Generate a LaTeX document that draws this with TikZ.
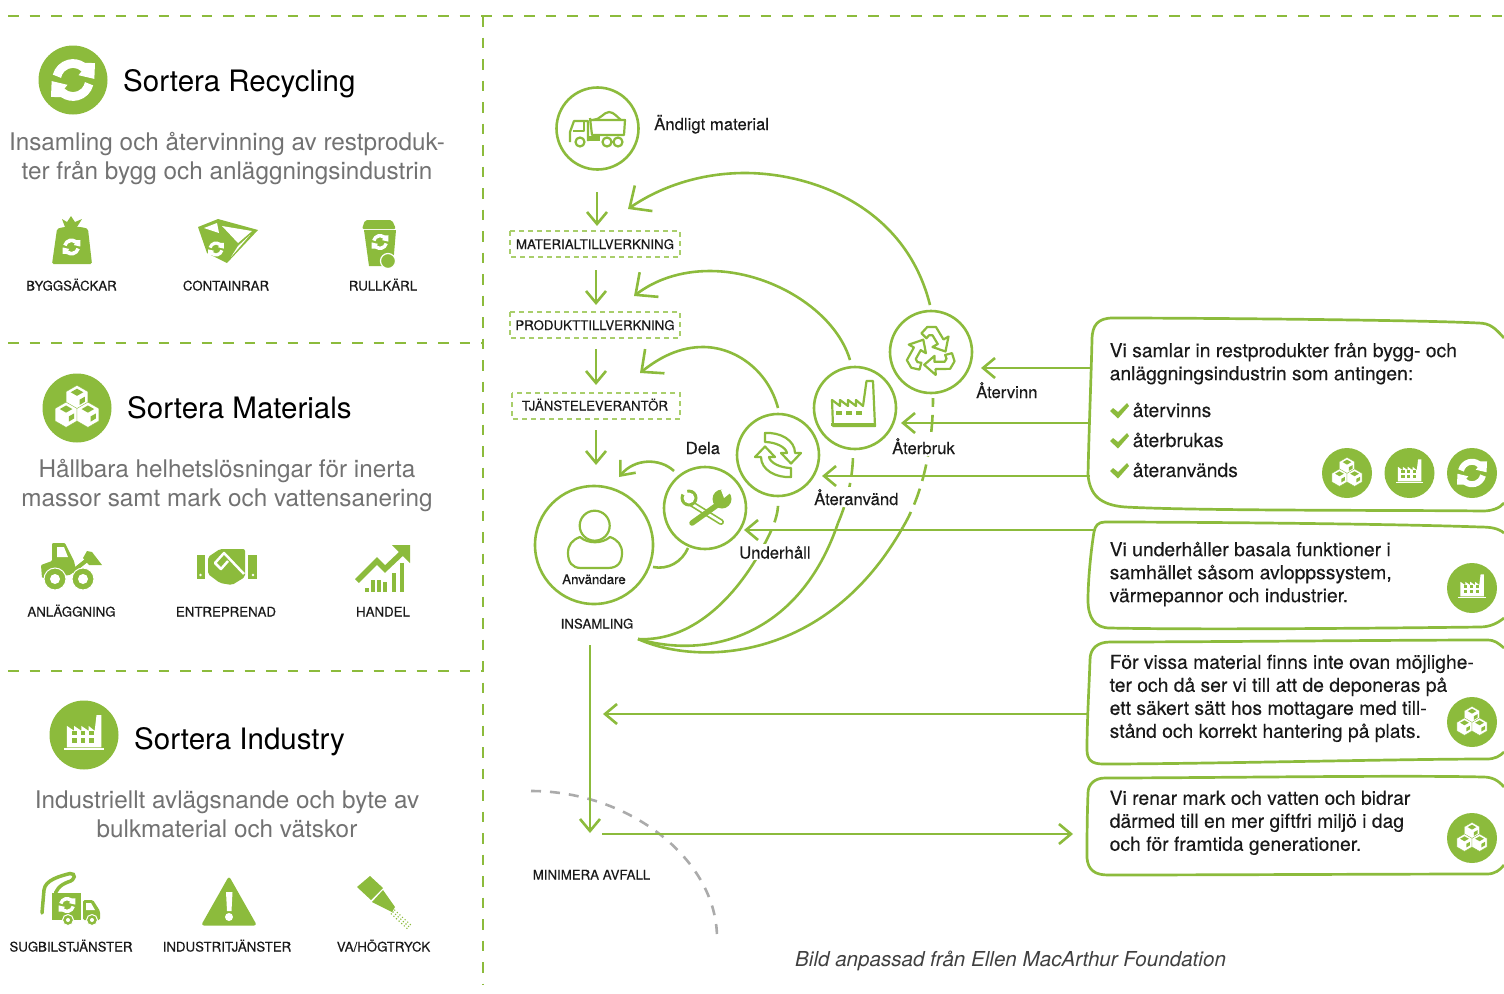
\documentclass[tikz,border=0pt]{standalone}
\usepackage{fontspec}
\setmainfont{TeX Gyre Heros}
\newfontfamily\fbold[FakeBold=0.4]{TeX Gyre Heros}
\newfontfamily\fbolds[FakeBold=0.25]{TeX Gyre Heros}
\usetikzlibrary{arrows.meta}
\definecolor{gr}{HTML}{8CBB3C}
\definecolor{grl}{HTML}{A9CE6B}
\definecolor{txtg}{HTML}{727272}
\definecolor{txtk}{HTML}{1A1A1A}
\definecolor{dashg}{HTML}{ABABAB}
\newcommand{\isync}[4]{\begin{scope}[shift={(#1,#2)},scale=#3]
 \foreach \rr in {0,180}{\fill[#4,rotate=\rr] (165:.95) arc (165:55:.95) -- (1,.77) -- (.97,.05) -- (.25,.22) -- (45:.55) arc (45:170:.55) -- cycle;}
 \end{scope}}
\newcommand{\icube}[4]{\begin{scope}[shift={(#1,#2)}]
 \fill[#3,draw=#4,line width=.4pt,line join=round] (90:.6) -- (30:.6) -- (-30:.6) -- (-90:.6) -- (-150:.6) -- (150:.6) -- cycle;
 \fill[#4] (0,.44) -- (.3,.27) -- (0,.1) -- (-.3,.27) -- cycle;
 \fill[#4] (.13,-.08) -- (.38,.06) -- (.38,-.18) -- (.13,-.33) -- cycle;
 \end{scope}}
\newcommand{\icubes}[5]{\begin{scope}[shift={(#1,#2)},scale=#3]
 \icube{0}{.48}{#4}{#5}\icube{-.52}{-.32}{#4}{#5}\icube{.52}{-.32}{#4}{#5}\end{scope}}
\newcommand{\ifactory}[5]{\begin{scope}[shift={(#1,#2)},scale=#3]
 \fill[#4] (-.9,-.65) -- (-.9,.48) -- (-.52,.22) -- (-.52,.48) -- (-.14,.22) -- (-.14,.48) -- (.24,.22) -- (.24,.48) -- (.56,.22) -- (.66,1.05) -- (.92,1.05) -- (.92,-.65) -- cycle;
 \fill[#4] (-1.05,-.78) rectangle (1.05,-.68);
 \foreach \xx in {-.62,-.17,.28}{\foreach \yy in {-.42,-.02}{\fill[#5] (\xx,\yy) rectangle +(.24,.24);}}
 \end{scope}}
\tikzset{
 sep/.style={gr,line width=2.6pt,dash pattern=on 10.5pt off 11pt},
 circ/.style={circle,draw=gr,line width=2.6pt,fill=white,inner sep=0pt},
 dot/.style={circle,fill=gr,inner sep=0pt},
 conn/.style={gr,line width=2.6pt},
 dconn/.style={gr,line width=2.6pt,dash pattern=on 17pt off 8pt},
 box/.style={gr,line width=2.7pt,line join=round},
 darrow/.style={conn,-{Straight Barb[length=12pt,width=20pt,line width=2.6pt]}},
 barrow/.style={conn,-{Straight Barb[length=17pt,width=31pt,line width=2.6pt]}},
 title/.style={anchor=base west,inner sep=0pt,text=black,font=\fontsize{29.5}{36}\selectfont},
 desc/.style={align=center,inner sep=0pt,text=txtg,font=\fontsize{24.3}{29}\selectfont},
 caps/.style={inner sep=0pt,anchor=base,text=txtk,font=\fbold\fontsize{13.25}{15}\selectfont},
 lab/.style={inner sep=1.5pt,fill=white,anchor=base west,text=txtk,font=\fbolds\fontsize{16.7}{19}\selectfont},
 body/.style={align=left,anchor=north west,inner sep=0pt,text=txtk,font=\fbolds\fontsize{19.3}{23}\selectfont},
 tbox/.style={grl,line width=1.3pt,dash pattern=on 5pt off 4pt},
 ico/.style={gr,line width=2.2pt,line join=round},
}
\begin{document}
\begin{tikzpicture}[x=1pt,y=1pt]
\useasboundingbox (0,0) rectangle (1504,-993);
% separators
\draw[sep] (8,-16) -- (1504,-16);
\draw[sep] (483,-16) -- (483,-985);
\draw[sep] (8,-343) -- (483,-343);
\draw[sep] (8,-671) -- (483,-671);

% --- left panel 1
\node[dot,minimum size=69pt] (cr) at (73,-80) {};
\isync{73}{-80}{22}{white}
\node[title] (tr) at (123,-91) {Sortera Recycling};
\node[desc] (dr) at (227,-159) {Insamling och återvinning av restproduk-\\ter från bygg och anläggningsindustrin};
% bag
\fill[gr,rounded corners=1.5pt] (57,-229) .. controls (65,-226) and (80,-226) .. (88,-229) -- (92,-264) -- (52,-264) -- cycle;
\fill[gr] (62,-219) -- (67,-222) -- (71,-216) -- (75,-222) -- (82,-219) -- (77,-227) -- (65,-227) -- cycle;
\isync{71.5}{-247}{9}{white}
% container
\fill[gr,line join=round] (198,-227) -- (218,-219) -- (258,-230) -- (227,-263) -- (207,-253) -- cycle;
\fill[white] (204,-228) -- (217,-223) -- (219,-233) -- cycle;
\fill[white] (222,-226) -- (252,-231) -- (238,-243) -- cycle;
\fill[white] (238,-246) -- (250,-235) -- (231,-257) -- cycle;
\isync{216}{-249}{8}{white}
% bin
\fill[gr,rounded corners=2pt] (362,-229) -- (365,-220) -- (392,-220) -- (396,-229) -- cycle;
\fill[gr] (364,-230) -- (396,-230) -- (393,-266) -- (369,-266) -- cycle;
\isync{380}{-242}{8.5}{white}
\fill[gr,draw=white,line width=1.2pt] (388,-261) circle (7.5);
\node[caps] (l1) at (71.5,-290.5) {BYGGSÄCKAR};
\node[caps] (l2) at (226,-290.5) {CONTAINRAR};
\node[caps] (l3) at (383,-290.5) {RULLKÄRL};

% --- left panel 2
\node[dot,minimum size=69pt] (cm) at (77,-408) {};
\icubes{77}{-408}{21}{white}{gr}
\node[title] (tm) at (127,-418) {Sortera Materials};
\node[desc] (dm) at (227,-486) {Hållbara helhetslösningar för inerta\\massor samt mark och vattensanering};
% loader
\fill[gr,rounded corners=1pt] (52,-543) -- (65,-543) -- (74,-561) -- (76,-570) -- (70,-575) -- (42,-578) -- (41,-565) -- (52,-561) -- cycle;
\fill[white] (57,-547) -- (64,-547) -- (68,-557) -- (57,-557) -- cycle;
\draw[gr,line width=4pt] (72,-572) -- (87,-560);
\fill[gr] (87,-551) -- (92,-552) -- (102,-565) -- (89,-565) -- (83,-558) -- cycle;
\foreach \xx in {55,83}{\fill[gr,draw=white,line width=1pt] (\xx,-579) circle (11); \fill[white] (\xx,-579) circle (5);}
% handshake
\fill[gr] (196.5,-555) rectangle (205,-579);
\fill[gr] (248,-555) rectangle (257,-579);
\fill[white] (200.5,-575) circle (1.4) (253,-575) circle (1.4);
\fill[gr,rounded corners=2pt] (208,-557) -- (220,-549) -- (245,-549) -- (245,-577) -- (232,-585) -- (220,-583) -- (208,-574) -- cycle;
\draw[white,line width=2.5pt,line join=round] (228,-561) -- (221,-569) -- (215,-563) -- (224,-553) -- (244,-574);
% chart
\foreach \xx/\yy in {365/588,371/580,377/580,383/582,392/573,400/563}{\fill[gr] (\xx,-592) rectangle (\xx+3.5,-\yy);}
\draw[white,line width=7.5pt] (357,-581) -- (377,-561) -- (385,-569) -- (403,-552);
\draw[gr,line width=5.5pt] (357,-581) -- (377,-561) -- (385,-569) -- (403,-552);
\fill[gr] (392,-545) -- (410,-545) -- (410,-563) -- cycle;
\node[caps] (l4) at (71.5,-616.5) {ANLÄGGNING};
\node[caps] (l5) at (226,-616.5) {ENTREPRENAD};
\node[caps] (l6) at (383,-616.5) {HANDEL};

% --- left panel 3
\node[dot,minimum size=69pt] (ci) at (84,-735) {};
\ifactory{84}{-735}{19}{white}{gr}
\node[title] (ti) at (134,-749) {Sortera Industry};
\node[desc] (di) at (227,-814.5) {Industriellt avlägsnande och byte av\\bulkmaterial och vätskor};
% vacuum truck
\draw[gr,line width=3.5pt,line cap=round] (42,-913) -- (44,-890) .. controls (45,-880) and (60,-876) .. (70,-873.5) .. controls (76,-873) and (76,-880) .. (68,-882) .. controls (60,-885) and (55,-890) .. (55,-897);
\fill[gr] (52,-893) rectangle (81,-920);
\fill[gr,rounded corners=1.5pt] (83,-900) -- (93,-900) -- (100,-911) -- (100,-920) -- (83,-920) -- cycle;
\fill[white] (86,-903) -- (91,-903) -- (95,-910) -- (86,-910) -- cycle;
\isync{67}{-905}{8.5}{white}
\foreach \xx in {68,92}{\fill[gr,draw=white,line width=1pt] (\xx,-920) circle (5.5); \fill[white] (\xx,-920) circle (2);}
% warning
\fill[gr,rounded corners=3pt] (229,-876) -- (257,-925.5) -- (201,-925.5) -- cycle;
\fill[white] (226,-892) -- (232.5,-892) -- (231.5,-911) -- (227,-911) -- cycle;
\fill[white] (229,-917) circle (4);
% nozzle
\fill[gr] (370,-876) -- (383,-888) -- (371,-900) -- (357,-887) -- cycle;
\fill[gr] (383,-890) -- (395,-907) -- (392,-912) -- (372,-902) -- cycle;
\foreach \ii in {0,1,2,3,4,5,6}{\foreach \jj in {-1,0,1}{\fill[gr] ({393+2.6*\ii-1.7*\jj},{-912-2.4*\ii-1.9*\jj}) circle (.8);}}
\node[caps] (l7) at (71,-951.5) {SUGBILSTJÄNSTER};
\node[caps] (l8) at (227,-951.5) {INDUSTRITJÄNSTER};
\node[caps] (l9) at (383.5,-951.5) {VA/HÖGTRYCK};

% --- flow: named anchors
\coordinate (a1s) at (597,-192); \coordinate (a1e) at (597,-226);
\coordinate (a2s) at (596,-270); \coordinate (a2e) at (596,-305);
\coordinate (a3s) at (596,-349); \coordinate (a3e) at (596,-385);
\coordinate (a4s) at (596,-430); \coordinate (a4e) at (596,-465);
\coordinate (hub) at (638,-639);
\coordinate (colltop) at (590,-645); \coordinate (collbot) at (590,-833);
\coordinate (mintail) at (602,-834); \coordinate (minhead) at (1073,-834);
\coordinate (depo) at (603,-714);
\coordinate (rv) at (981,-368); \coordinate (rb) at (901,-423); \coordinate (ra) at (822,-476); \coordinate (ru) at (744,-530);
\coordinate (gs) at (531,-791); \coordinate (ge) at (717,-938);

% sweeping return curves
\draw[conn] (hub) .. controls (690,-642) and (735,-600) .. (764,-545);
\draw[dconn] (764,-545) .. controls (772,-530) and (779,-515) .. (778,-501);
\draw[conn] (hub) .. controls (710,-660) and (800,-635) .. (838,-523);
\draw[dconn] (838,-523) .. controls (848,-500) and (853,-475) .. (853,-454);
\draw[conn] (hub) .. controls (695,-665) and (825,-665) .. (903,-527);
\draw[dconn] (903,-527) .. controls (925,-490) and (933,-440) .. (933,-398);

% grey arc
\draw[dashg,line width=2.6pt,dash pattern=on 10pt off 9pt] (gs) .. controls (630,-791) and (717,-860) .. (ge);

% feedback arcs
\draw[barrow] (930,-305) .. controls (905,-205) and (810,-173) .. (745,-173) .. controls (700,-173) and (660,-187) .. (628,-209);
\draw[barrow] (850,-360) .. controls (835,-310) and (770,-271) .. (710,-271) .. controls (680,-271) and (655,-280) .. (634,-296);
\draw[barrow] (778,-408) .. controls (768,-370) and (735,-347) .. (703,-347) .. controls (680,-347) and (660,-357) .. (640,-373);

% down arrows
\draw[darrow] (a1s) -- (a1e);
\draw[darrow] (a2s) -- (a2e);
\draw[darrow] (a3s) -- (a3e);
\draw[darrow] (a4s) -- (a4e);
\draw[darrow] (colltop) -- (collbot);

% horizontal arrows
\draw[darrow] (1090,-368) -- (rv);
\draw[darrow] (1090,-423) -- (rb);
\draw[darrow] (1090,-476) -- (ra);
\draw[darrow] (1096,-530) -- (ru);
\draw[darrow] (1088,-714) -- (depo);
\draw[darrow] (mintail) -- (minhead);

% dela
\draw[darrow] (674,-471) .. controls (660,-458) and (635,-458) .. (619,-477);
\draw[conn] (688,-548) .. controls (682,-562) and (668,-570) .. (653,-567);

% circles
\node[circ,minimum size=82pt] (ct) at (597.5,-128.5) {};
\node[circ,minimum size=82pt] (c1) at (931,-352) {};
\node[circ,minimum size=82pt] (c2) at (855,-408) {};
\node[circ,minimum size=82pt] (c3) at (778,-455) {};
\node[circ,minimum size=82pt] (c4) at (705,-508) {};
\node[circ,minimum size=118pt] (cu) at (594,-545) {};

% truck icon
\draw[ico] (570,-142) -- (570,-132) -- (574,-121) -- (588,-121) -- (588,-141);
\draw[ico] (573,-131) -- (584,-131) -- (584,-122);
\draw[ico] (590,-120) -- (625,-120) -- (624,-135) -- (592,-135) -- (590,-118);
\draw[ico] (593,-120) .. controls (600,-120) and (604,-112) .. (609,-112) .. controls (614,-112) and (618,-118) .. (621,-120);
\fill[gr] (588,-136) rectangle (600,-141);
\draw[ico,fill=white] (580,-142) circle (4.5) (607,-142) circle (4.5) (618,-142) circle (4.5);

% recycling triangle
\begin{scope}[shift={(c1.center)},scale=25]
\foreach \rr in {0,120,240}{\draw[rotate=\rr,ico] (-.38,.75) -- (-.15,1) -- (.2,1) -- (.5,.5) -- (.7,.62) -- (.58,.02) -- (.06,.2) -- (.27,.32) -- (.06,.67) -- (-.08,.67) -- (-.18,.55) -- cycle;}
\end{scope}

% factory outline
\draw[ico] (833,-426) -- (832,-400) -- (840,-406) -- (840,-400) -- (848,-406) -- (848,-400) -- (856,-406) -- (856,-400) -- (863,-406) -- (866.5,-381) -- (873,-381) -- (875,-426) -- cycle;
\foreach \xx in {836,846,856}{\fill[gr] (\xx,-415) rectangle +(6,4);}
\draw[ico] (831,-424.5) -- (875,-424.5);

% sync outline
\begin{scope}[shift={(c3.center)}]
\foreach \rr in {0,180}{\draw[rotate=\rr,ico] (-13,22) .. controls (2,23) and (17,15) .. (17,2) -- (23,2) -- (13,-8.5) -- (3,2) -- (9,2) .. controls (8,8) and (-3,13) .. (-13,13) -- cycle;}
\end{scope}

% tools
\draw[gr,line width=6pt,line cap=round] (692,-504) -- (721,-522);
\draw[white,line width=2.6pt,line cap=round] (692,-504) -- (721,-522);
\fill[gr] (689,-498) circle (8.5);
\fill[white] (689,-498) circle (5.5);
\fill[white] (689,-498) -- (679,-492) -- (686,-487) -- cycle;
\draw[gr,line width=5.5pt,line cap=round] (692,-523) -- (720,-503);
\fill[gr] (722,-499) circle (9.5);
\fill[white] (724,-498) -- (734,-490) -- (728,-486) -- (721,-490) -- cycle;

% user
\draw[ico] (594.7,-525.7) circle (15);
\draw[ico] (580,-537) .. controls (588,-544) and (602,-544) .. (610,-537) .. controls (618,-540) and (622,-545) .. (622,-553) .. controls (622,-562) and (618,-568) .. (608,-568) -- (581,-568) .. controls (572,-568) and (568,-562) .. (568,-553) .. controls (568,-545) and (572,-540) .. (580,-537) -- cycle;
\node[caps] (uanv) at (594,-584) {Användare};

% labels
\node[lab,fill=none] (lm) at (652.5,-130) {Ändligt material};
\node[lab] (la) at (974.5,-398) {Återvinn};
\node[lab] (lb) at (890.5,-454) {Återbruk};
\node[lab] (lc) at (812.5,-505) {Återanvänd};
\node[lab] (ld) at (737.5,-558.5) {Underhåll};
\node[lab,fill=none] (le) at (684,-454) {Dela};
\node[caps] (li) at (597,-628.5) {INSAMLING};
\node[caps] (lf) at (591.5,-879.5) {MINIMERA AVFALL};

% process boxes
\draw[tbox] (510,-231) rectangle (680,-257);
\draw[tbox] (510,-312) rectangle (680,-338);
\draw[tbox] (512,-393) rectangle (680,-419);
\node[caps] (p1) at (595,-249) {MATERIALTILLVERKNING};
\node[caps] (p2) at (595,-330) {PRODUKTTILLVERKNING};
\node[caps] (p3) at (595,-410.5) {TJÄNSTELEVERANTÖR};

% right boxes
\draw[box] (1504,-338) .. controls (1495,-328) and (1490,-323) .. (1478,-323) .. controls (1420,-320) and (1200,-318) .. (1113,-318) .. controls (1098,-318) and (1092,-325) .. (1092,-340) .. controls (1091,-380) and (1089,-430) .. (1088,-475) .. controls (1090,-495) and (1100,-505) .. (1125,-507) .. controls (1200,-511) and (1400,-510) .. (1483,-511) .. controls (1492,-511) and (1500,-508) .. (1504,-503);
\draw[box] (1504,-533) .. controls (1498,-528) and (1490,-527) .. (1480,-527) .. controls (1400,-524) and (1200,-522) .. (1105,-522) .. controls (1098,-522) and (1095,-526) .. (1094,-532) .. controls (1091,-550) and (1088,-580) .. (1088,-600) .. controls (1088,-618) and (1095,-628) .. (1110,-628) .. controls (1200,-630) and (1400,-628) .. (1480,-627) .. controls (1490,-627) and (1498,-623) .. (1504,-618);
\draw[box] (1504,-648) .. controls (1498,-643) and (1495,-640) .. (1487,-640) .. controls (1400,-640) and (1200,-642) .. (1110,-642) .. controls (1098,-642) and (1090,-648) .. (1090,-660) .. controls (1089,-690) and (1087,-720) .. (1087,-750) .. controls (1087,-760) and (1092,-764) .. (1103,-764) .. controls (1200,-764) and (1400,-759) .. (1487,-759) .. controls (1495,-759) and (1500,-756) .. (1504,-752);
\draw[box] (1504,-787) .. controls (1498,-780) and (1492,-777) .. (1483,-777) .. controls (1400,-775) and (1200,-778) .. (1105,-778) .. controls (1095,-778) and (1088,-784) .. (1088,-793) .. controls (1087,-820) and (1087,-840) .. (1087,-858) .. controls (1088,-870) and (1095,-875) .. (1108,-875) .. controls (1200,-875) and (1400,-874) .. (1487,-874) .. controls (1495,-874) and (1500,-870) .. (1504,-865);

% right texts
\node[body] (b1) at (1109.5,-342.5) {Vi samlar in restprodukter från bygg- och\\anläggningsindustrin som antingen:};
\node[body,anchor=base west] (c1t) at (1132.5,-417) {återvinns};
\node[body,anchor=base west] (c2t) at (1132.5,-447) {återbrukas};
\node[body,anchor=base west] (c3t) at (1132.5,-477) {återanvänds};
\foreach \yy in {-411,-441,-471}{\fill[gr] (1110,\yy) -- (1113,\yy+3) -- (1118,\yy-1) -- (1127,\yy+8) -- (1129,\yy+5) -- (1118,\yy-7.5) -- cycle;}
\node[body] (b2) at (1109.5,-541.5) {Vi underhåller basala funktioner i\\samhället såsom avloppssystem,\\värmepannor och industrier.};
\node[body] (b3) at (1109.5,-654.5) {För vissa material finns inte ovan möjlighe-\\ter och då ser vi till att de deponeras på\\ett säkert sätt hos mottagare med till-\\stånd och korrekt hantering på plats.};
\node[body] (b4) at (1109.5,-790.5) {Vi renar mark och vatten och bidrar\\därmed till en mer giftfri miljö i dag\\och för framtida generationer.};

% small round icons
\node[dot,minimum size=50pt] (s1) at (1347,-473) {};
\icubes{1347}{-473}{14.5}{white}{gr}
\node[dot,minimum size=50pt] (s2) at (1409.5,-473) {};
\ifactory{1409.5}{-473}{13}{white}{gr}
\node[dot,minimum size=50pt] (s3) at (1472,-473) {};
\isync{1472}{-473}{15}{white}
\node[dot,minimum size=50pt] (s4) at (1472,-588) {};
\ifactory{1472}{-588}{13}{white}{gr}
\node[dot,minimum size=50pt] (s5) at (1472,-722) {};
\icubes{1472}{-722}{14.5}{white}{gr}
\node[dot,minimum size=50pt] (s6) at (1472,-838) {};
\icubes{1472}{-838}{14.5}{white}{gr}

\node[anchor=base west,inner sep=0pt,text=black!75,font=\itshape\fontsize{20.6}{25}\selectfont] (cap) at (795,-966) {Bild anpassad från Ellen MacArthur Foundation};
\end{tikzpicture}
\end{document}
